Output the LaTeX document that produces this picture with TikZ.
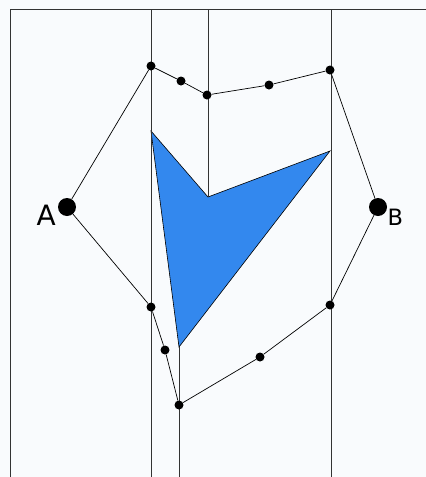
\documentclass[tikz,border=0pt]{standalone}
\usepackage{fontspec}
\setmainfont{DejaVu Sans}
\usepackage{xcolor}
\definecolor{bgpale}{RGB}{249,251,253}
\definecolor{obstacle}{RGB}{51,136,238}
\usetikzlibrary{positioning}

\begin{document}
\begin{tikzpicture}[
  x=1pt, y=-1pt,
  dot/.style={circle, fill=black, inner sep=0pt, minimum size=9pt},
  bigdot/.style={circle, fill=black, inner sep=0pt, minimum size=18pt},
  grid/.style={draw=black!80, line width=0.7pt},
  route/.style={draw=black, line width=0.7pt},
  lbl/.style={inner sep=0pt}
]

% ---------- Canvas ----------
\fill[bgpale] (0,0) rectangle (426,477);
\useasboundingbox (0,0) rectangle (426,477);

% ---------- Frame and cell walls ----------
\coordinate (fr1) at (10,477);
\coordinate (fr2) at (10,9);
\coordinate (fr3) at (426,9);
\draw[grid] (fr1) -- (fr2) -- (fr3);

\coordinate (w1t) at (151,9);  \coordinate (w1b) at (151,477);
\coordinate (w2t) at (208,9);
\coordinate (w3t) at (331,9);  \coordinate (w3b) at (331,477);
\coordinate (w4b) at (179,477);

% ---------- Obstacle ----------
\coordinate (o1) at (151,131);
\coordinate (o2) at (208,197);
\coordinate (o3) at (330,151);
\coordinate (o4) at (179,347);
\filldraw[fill=obstacle, draw=black, line width=0.6pt] (o1) -- (o2) -- (o3) -- (o4) -- cycle;

\draw[grid] (w1t) -- (w1b);
\draw[grid] (w2t) -- (o2);
\draw[grid] (w3t) -- (w3b);
\draw[grid] (o4) -- (w4b);

% ---------- Route points ----------
\node[bigdot] (A) at (67,207) {};
\node[bigdot] (B) at (378,207) {};
\node[dot] (p1) at (151,66) {};
\node[dot] (p2) at (181,81) {};
\node[dot] (p3) at (207,95) {};
\node[dot] (p4) at (269,85) {};
\node[dot] (p5) at (330,70) {};
\node[dot] (q1) at (330,305) {};
\node[dot] (q2) at (260,357) {};
\node[dot] (q3) at (179,405) {};
\node[dot] (q4) at (165,350) {};
\node[dot] (q5) at (151,307) {};

\node[lbl, font=\fontsize{28}{28}\selectfont, anchor=base east] (Alab) at (56,225.5) {A};
\node[lbl, font=\fontsize{22.5}{22.5}\selectfont, anchor=base west] (Blab) at (387.5,225.5) {B};

% ---------- Route ----------
\draw[route] (A) -- (p1) -- (p2) -- (p3) -- (p4) -- (p5) -- (B);
\draw[route] (B) -- (q1) -- (q2) -- (q3) -- (q4) -- (q5) -- (A);

\end{tikzpicture}
\end{document}
